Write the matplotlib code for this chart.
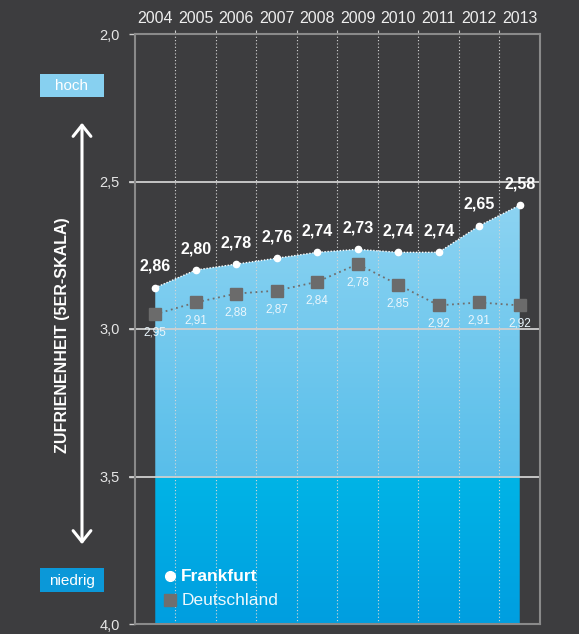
import numpy as np
import matplotlib
matplotlib.use("Agg")
import matplotlib.pyplot as plt
from matplotlib.patches import FancyArrowPatch, Rectangle

years = [2004, 2005, 2006, 2007, 2008, 2009, 2010, 2011, 2012, 2013]
frankfurt = [2.86, 2.80, 2.78, 2.76, 2.74, 2.73, 2.74, 2.74, 2.65, 2.58]
deutschland = [2.95, 2.91, 2.88, 2.87, 2.84, 2.78, 2.85, 2.92, 2.91, 2.92]
yticks = [2.0, 2.5, 3.0, 3.5, 4.0]
ytick_labels = ["2,0", "2,5", "3,0", "3,5", "4,0"]
ylabel = "ZUFRIENENHEIT (5ER-SKALA)"

BG = "#3d3d3f"
GRID = "#8a8a8a"

plt.rcParams['font.family'] = ['Liberation Sans', 'DejaVu Sans']

fig = plt.figure(figsize=(5.79, 6.34), dpi=100, facecolor=BG)
ax = fig.add_axes([135/579, 1 - 624/634, 405/579, 590/634])
ax.set_facecolor(BG)
ax.set_xlim(2003.5, 2013.5)
ax.set_ylim(4.0, 2.0)

# gradient fill under Frankfurt
poly = ax.fill_between(years, frankfurt, 4.0, color="none", lw=0)
ys = np.linspace(2.0, 4.0, 400)
cols = []
c_top = np.array([0x8e, 0xd4, 0xf2]) / 255
c_mid = np.array([0x58, 0xbe, 0xea]) / 255
c_mid2 = np.array([0x00, 0xb4, 0xe6]) / 255
c_bot = np.array([0x00, 0x9e, 0xe0]) / 255
for y in ys:
    if y < 3.5:
        t = (y - 2.55) / (3.5 - 2.55)
        t = min(max(t, 0), 1)
        cols.append(c_top * (1 - t) + c_mid * t)
    else:
        t = (y - 3.5) / 0.5
        cols.append(c_mid2 * (1 - t) + c_bot * t)
img = np.array(cols).reshape(-1, 1, 3)
im = ax.imshow(img, extent=[2003.5, 2013.5, 4.0, 2.0], aspect="auto", zorder=1, interpolation="bilinear")
im.set_clip_path(poly.get_paths()[0], transform=ax.transData)
ax.set_xlim(2003.5, 2013.5)
ax.set_ylim(4.0, 2.0)

# vertical dotted separators
for xv in np.arange(2004.5, 2013.0, 1.0):
    ax.axvline(xv, color="#d8d8d8", lw=0.8, ls=(0, (1, 2)), zorder=2)

# horizontal gridlines
for yv in [2.5, 3.0, 3.5]:
    ax.plot([2003.38, 2013.5], [yv, yv], color="#d0d0d0", lw=1.3, zorder=2, clip_on=False)

# Frankfurt
ax.plot(years, frankfurt, color="white", lw=1.0, ls=(0, (1, 1.2)), zorder=4)
ax.plot(years, frankfurt, "o", color="white", ms=4.5, zorder=5)
for x, v in zip(years, frankfurt):
    ax.annotate(f"{v:.2f}".replace(".", ","), (x, v), xytext=(0, 10), textcoords="offset points",
                ha="center", va="bottom", color="white", fontsize=11.5, fontweight="bold", zorder=6)

# Deutschland
ax.plot(years, deutschland, color="#6f6f6f", lw=1.3, ls=(0, (1, 2)), zorder=4)
ax.plot(years, deutschland, "s", color="#6b6b6b", ms=8, zorder=5)
for x, v in zip(years, deutschland):
    ax.annotate(f"{v:.2f}".replace(".", ","), (x, v), xytext=(0, -9), textcoords="offset points",
                ha="center", va="top", color="#eaf6fc", fontsize=8.5, zorder=6)

# spines
for s in ax.spines.values():
    s.set_color(GRID)
    s.set_linewidth(1.5)
    s.set_zorder(7)

ax.set_yticks(yticks)
ax.set_yticklabels(ytick_labels)
ax.tick_params(axis="y", colors="#e6e6e6", labelsize=10.5, length=4, width=1, pad=7, color="#cccccc")
ax.set_xticks(np.arange(2004.5, 2013.0, 1.0))
ax.set_xticklabels([])
ax.tick_params(axis="x", top=True, bottom=False, direction="out", length=3, color="#cccccc")
ax.set_xticks(years, minor=True)
ax.set_xticklabels([str(y) for y in years], minor=True)
ax.tick_params(axis="x", which="minor", top=True, labeltop=True, bottom=False, labelbottom=False,
               length=0, colors="#eeeeee", labelsize=11.5, pad=6)

# legend
ax.plot([2004.36], [3.838], "o", color="white", ms=7, clip_on=False, zorder=8)
ax.text(2004.64, 3.838, "Frankfurt", color="white", fontsize=12.5, fontweight="bold", va="center", zorder=8)
ax.plot([2004.36], [3.92], "s", color="#6f6f6f", ms=8, clip_on=False, zorder=8)
ax.text(2004.64, 3.92, "Deutschland", color="#eef8fd", fontsize=12.5, va="center", zorder=8)

# left decorations
fig.patches.append(Rectangle((40/579, 1 - 97/634), 64/579, 23/634, transform=fig.transFigure,
                             fc="#87d0f0", ec="none"))
fig.text(72/579, 1 - 86/634, "hoch", ha="center", va="center", color="white", fontsize=11)
fig.patches.append(Rectangle((40/579, 1 - 592/634), 64/579, 24/634, transform=fig.transFigure,
                             fc="#0b98d8", ec="none"))
fig.text(72/579, 1 - 580.5/634, "niedrig", ha="center", va="center", color="white", fontsize=11)
arr = FancyArrowPatch((82/579, 1 - 120/634), (82/579, 1 - 547/634), transform=fig.transFigure,
                      arrowstyle="<->,head_length=5,head_width=4", color="white", lw=2.2, mutation_scale=1.6)
fig.patches.append(arr)
fig.text(62/579, 1 - 335/634, ylabel, rotation=90, ha="center", va="center", color="white",
         fontsize=11.5, fontweight="bold")

fig.savefig("out.png", dpi=100, facecolor=BG)
